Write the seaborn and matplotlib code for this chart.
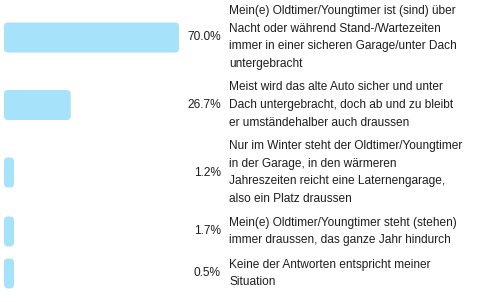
import matplotlib
matplotlib.use("Agg")
import matplotlib.pyplot as plt
from matplotlib.patches import FancyBboxPatch
import numpy as np
import pandas as pd
import seaborn as sns

answers = [
    "Mein(e) Oldtimer/Youngtimer ist (sind) über\nNacht oder während Stand-/Wartezeiten\nimmer in einer sicheren Garage/unter Dach\nuntergebracht",
    "Meist wird das alte Auto sicher und unter\nDach untergebracht, doch ab und zu bleibt\ner umständehalber auch draussen",
    "Nur im Winter steht der Oldtimer/Youngtimer\nin der Garage, in den wärmeren\nJahreszeiten reicht eine Laternengarage,\nalso ein Platz draussen",
    "Mein(e) Oldtimer/Youngtimer steht (stehen)\nimmer draussen, das ganze Jahr hindurch",
    "Keine der Antworten entspricht meiner\nSituation",
]
shares = [70.0, 26.7, 1.2, 1.7, 0.5]
pct_labels = ["70.0%", "26.7%", "1.2%", "1.7%", "0.5%"]

BAR_COLOR = "#a6e3fb"
TEXT_COLOR = "#1e1e1e"
LINE_H = 17      # px per text line
ROW_GAP = 8      # px between rows
PX_PER_UNIT = 2.5
FS = 8.6

# row centers (in px from top) depend on how many lines each answer has
nlines = np.array([a.count("\n") + 1 for a in answers])
heights = nlines * LINE_H + ROW_GAP
tops = 3.5 + np.concatenate([[0], np.cumsum(heights)[:-1]])
centers = tops + (nlines * LINE_H) / 2

df = pd.DataFrame({"share": shares, "row": centers})

sns.set_style("white")
plt.rcParams["font.family"] = ["Liberation Sans", "DejaVu Sans"]

fig = plt.figure(figsize=(4.8, 3.02), dpi=100)
ax = fig.add_axes([0, 0, 1, 1])

sns.barplot(data=df, x="share", y="row", orient="h", native_scale=True,
            color=BAR_COLOR, ax=ax)

# axes in percent on x, pixels on y
ax.set_xlim(-4 / PX_PER_UNIT, (480 - 4) / PX_PER_UNIT)
ax.set_ylim(302, 0)
ax.axis("off")

# swap the seaborn bars for rounded ones, 30px tall, at least 10px wide
bars = list(ax.patches)
for p in bars:
    w = p.get_width()
    yc = p.get_y() + p.get_height() / 2
    p.remove()
    w = max(w, 10 / PX_PER_UNIT)
    rb = FancyBboxPatch((0, yc - 15), w, 30,
                        boxstyle="round,pad=0,rounding_size=1.6",
                        mutation_aspect=PX_PER_UNIT,
                        facecolor=BAR_COLOR, edgecolor="none")
    ax.add_patch(rb)

for yc, pl, txt in zip(centers, pct_labels, answers):
    ax.text((221 - 4) / PX_PER_UNIT, yc, pl, ha="right", va="center",
            fontsize=FS, color=TEXT_COLOR)
    ax.text((229 - 4) / PX_PER_UNIT, yc, txt, ha="left", va="center",
            fontsize=FS, color=TEXT_COLOR, linespacing=1.62)

fig.savefig("out.png", dpi=100)
